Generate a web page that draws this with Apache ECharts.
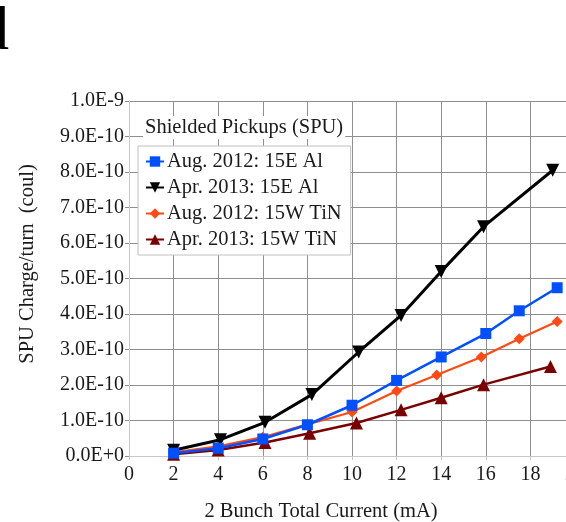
<!DOCTYPE html>
<html>
<head>
<meta charset="utf-8">
<script src="https://cdn.jsdelivr.net/npm/echarts@6/dist/echarts.min.js"></script>
<style>
html,body{margin:0;padding:0;background:#fff;}
#chart{width:566px;height:522px;}
</style>
</head>
<body>
<div id="chart"></div>
<script>
// Values in units of 1E-10 coul
var seriesNames = ['Aug. 2012: 15E Al', 'Apr. 2013: 15E Al', 'Aug. 2012: 15W TiN', 'Apr. 2013: 15W TiN'];

var aug2012_15E_x = [2, 4, 6, 8, 10, 12, 14, 16, 17.5, 19.2];
var aug2012_15E_y = [0.08, 0.22, 0.48, 0.88, 1.43, 2.13, 2.79, 3.45, 4.09, 4.74];

var apr2013_15E_x = [2, 4.1, 6.1, 8.2, 10.3, 12.2, 14, 15.9, 19];
var apr2013_15E_y = [0.16, 0.46, 0.95, 1.73, 2.93, 3.96, 5.2, 6.46, 8.05];

var aug2012_15W_x = [2, 4, 6, 8, 10, 12, 13.8, 15.8, 17.5, 19.2];
var aug2012_15W_y = [0.1, 0.27, 0.53, 0.89, 1.24, 1.83, 2.28, 2.79, 3.3, 3.79];

var apr2013_15W_x = [2, 4, 6.1, 8.1, 10.2, 12.2, 14, 15.9, 18.9];
var apr2013_15W_y = [0.05, 0.17, 0.38, 0.64, 0.93, 1.3, 1.64, 2.01, 2.52];

var xTicks = [0, 2, 4, 6, 8, 10, 12, 14, 16, 18, 20];
var yTickLabels = ['0.0E+0', '1.0E-10', '2.0E-10', '3.0E-10', '4.0E-10', '5.0E-10', '6.0E-10', '7.0E-10', '8.0E-10', '9.0E-10', '1.0E-9'];

function pairs(xs, ys) { return xs.map(function (x, i) { return [x, ys[i]]; }); }

var FONT = '"Liberation Serif", "DejaVu Serif", serif';
var chart = echarts.init(document.getElementById('chart'), null, {renderer: 'canvas'});

var gridColor = '#8f8f8f';
var option = {
  animation: false,
  backgroundColor: '#ffffff',
  grid: {left: 129, top: 101, right: -9, bottom: 66, containLabel: false, outerBoundsMode: 'none'},
  xAxis: {
    type: 'value', min: xTicks[0], max: xTicks[xTicks.length - 1], interval: 2,
    axisLine: {show: true, lineStyle: {color: '#c8c8c8', width: 1}},
    axisTick: {show: true, length: 4, lineStyle: {color: '#c8c8c8'}},
    axisLabel: {color: '#1a1a1a', fontFamily: FONT, fontSize: 20, margin: 9},
    splitLine: {show: true, lineStyle: {color: gridColor, width: 1}}
  },
  yAxis: {
    type: 'value', min: 0, max: 10, interval: 1,
    axisLine: {show: true, lineStyle: {color: '#c8c8c8', width: 1}},
    axisTick: {show: true, length: 4, lineStyle: {color: gridColor}},
    axisLabel: {color: '#1a1a1a', fontFamily: FONT, fontSize: 20, margin: 5,
      formatter: function (v) { return yTickLabels[Math.round(v)]; }},
    splitLine: {show: true, lineStyle: {color: gridColor, width: 1}}
  },
  legend: {
    orient: 'vertical', left: 138, top: 146,
    data: seriesNames,
    backgroundColor: '#ffffff', borderColor: '#c0c0c0', borderWidth: 1,
    padding: [5, 9, 5, 7],
    itemWidth: 18, itemHeight: 13, itemGap: 5,
    textStyle: {fontFamily: FONT, fontSize: 20.5, lineHeight: 20, color: '#1a1a1a', padding: [0, 0, 0, -2]}
  },
  graphic: [
    {type: 'text', left: -22, top: 2, style: {text: 'd', font: '62px ' + FONT, fill: '#000'}},
    {type: 'text', x: 143, y: 116, z: 100, style: {text: 'Shielded Pickups (SPU)', font: '20.5px ' + FONT, fill: '#1a1a1a', backgroundColor: '#fff', padding: [1, 2, 1, 2]}},
    {type: 'text', x: 321, y: 512, style: {text: '2 Bunch Total Current (mA)', font: '20.5px ' + FONT, fill: '#1a1a1a', align: 'center', verticalAlign: 'middle'}},
    {type: 'text', x: 28, y: 264, rotation: Math.PI / 2, style: {text: 'SPU Charge/turn  (coul)', font: '20.5px ' + FONT, fill: '#1a1a1a', align: 'center', verticalAlign: 'middle'}}
  ],
  series: [
    {name: seriesNames[3], type: 'line', z: 3, data: pairs(apr2013_15W_x, apr2013_15W_y),
      symbol: 'triangle', symbolSize: 13, color: '#7a0000', lineStyle: {width: 2.5, color: '#7a0000'}, itemStyle: {color: '#7a0000'}},
    {name: seriesNames[2], type: 'line', z: 4, data: pairs(aug2012_15W_x, aug2012_15W_y),
      symbol: 'diamond', symbolSize: 11, color: '#ff4a14', lineStyle: {width: 2.2, color: '#ff4a14'}, itemStyle: {color: '#ff4a14'}},
    {name: seriesNames[1], type: 'line', z: 5, data: pairs(apr2013_15E_x, apr2013_15E_y),
      symbol: 'triangle', symbolRotate: 180, symbolSize: 13, color: '#000000', lineStyle: {width: 3, color: '#000000'}, itemStyle: {color: '#000000'}},
    {name: seriesNames[0], type: 'line', z: 6, data: pairs(aug2012_15E_x, aug2012_15E_y),
      symbol: 'rect', symbolSize: 11, color: '#0050ff', lineStyle: {width: 2.5, color: '#0050ff'}, itemStyle: {color: '#0050ff'}}
  ]
};
chart.setOption(option);
</script>
</body>
</html>
